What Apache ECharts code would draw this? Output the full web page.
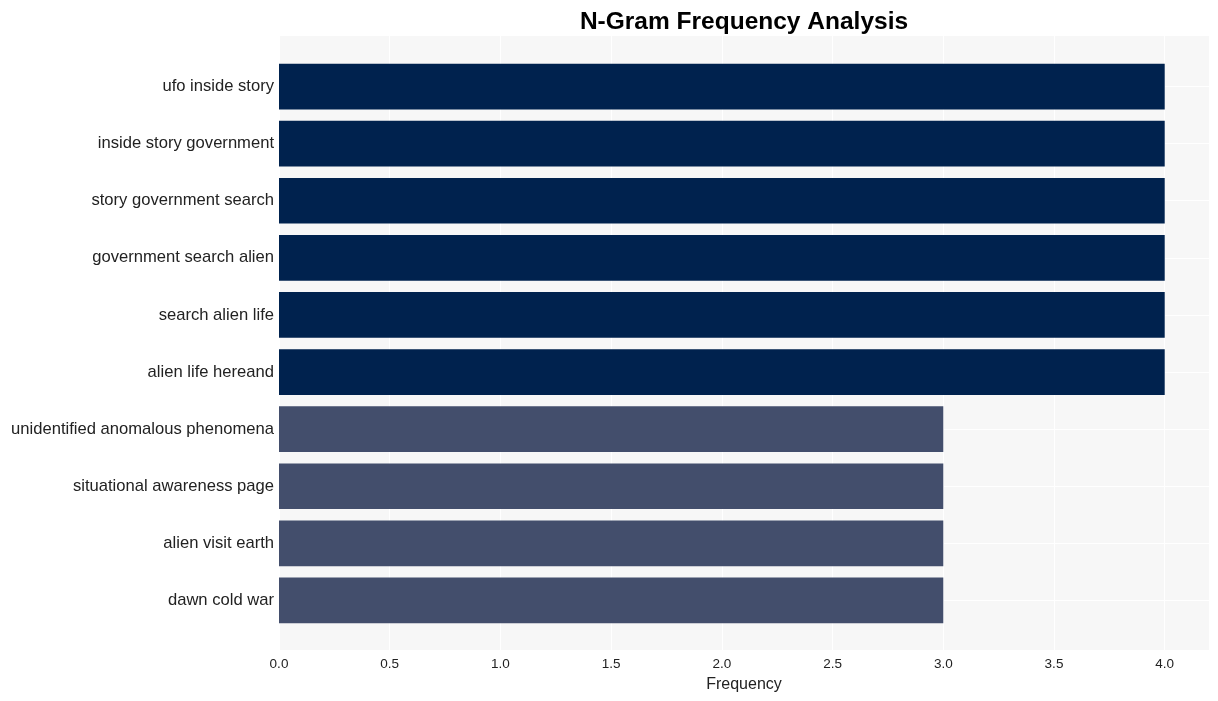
<!DOCTYPE html>
<html><head><meta charset="utf-8">
<script src="https://cdn.jsdelivr.net/npm/echarts@6/dist/echarts.min.js"></script>
<style>html,body{margin:0;padding:0;background:#fff}#c{width:1218px;height:701px}</style>
</head><body><div id="c"></div>
<script>
const categories = ["ufo inside story","inside story government","story government search","government search alien","search alien life","alien life hereand","unidentified anomalous phenomena","situational awareness page","alien visit earth","dawn cold war"];
const frequencies = [4,4,4,4,4,4,3,3,3,3];
const xTicks = [0,0.5,1,1.5,2,2.5,3,3.5,4];
const barColors = {4:"#00224e",3:"#434e6c"};
const FONT = "Liberation Sans, Arial, sans-serif";
const chart = echarts.init(document.getElementById('c'));
const L=279, R=9;
chart.setOption({
  animation:false,
  title:{text:"N-Gram Frequency Analysis",left:739,textAlign:'center',top:5,textStyle:{fontFamily:FONT,fontSize:24.5,fontWeight:'bold',color:'#000'}},
  grid:[
    {left:L,right:R,top:36,bottom:51,show:true,backgroundColor:'#f7f7f7',borderWidth:0,z:0},
    {left:L,right:R,top:86.5,bottom:100.5,show:false,z:1},
    {left:L,right:R,top:58,bottom:72,show:false,z:2}
  ],
  xAxis:[
    {gridIndex:0,type:'value',min:0,max:4.2,interval:0.5,
     axisLine:{show:false},axisTick:{show:false},
     splitLine:{show:true,lineStyle:{color:'#ffffff',width:1}},
     axisLabel:{margin:7,fontFamily:FONT,fontSize:13.5,color:'#222',showMaxLabel:false,
       formatter:v=>xTicks.indexOf(v)>=0?v.toFixed(1):''},
     name:'Frequency',nameLocation:'middle',nameGap:27,nameTextStyle:{fontFamily:FONT,fontSize:16,color:'#222'}},
    {gridIndex:1,type:'value',min:0,max:4.2,show:false},
    {gridIndex:2,type:'value',min:0,max:4.2,show:false}
  ],
  yAxis:[
    {gridIndex:0,type:'value',show:false},
    {gridIndex:1,type:'value',min:0,max:9,interval:1,inverse:true,
     axisLine:{show:false},axisTick:{show:false},axisLabel:{show:false},
     splitLine:{show:true,lineStyle:{color:'#ffffff',width:1}}},
    {gridIndex:2,type:'category',data:categories,inverse:true,
     axisLine:{show:false},axisTick:{show:false},splitLine:{show:false},
     axisLabel:{margin:5,fontFamily:FONT,fontSize:16.6,color:'#222',padding:[6,0,0,0]}}
  ],
  series:[{
    type:'bar',xAxisIndex:2,yAxisIndex:2,barWidth:'80%',z:3,
    data:frequencies.map(v=>({value:v,itemStyle:{color:barColors[v]}}))
  }]
});
</script></body></html>
